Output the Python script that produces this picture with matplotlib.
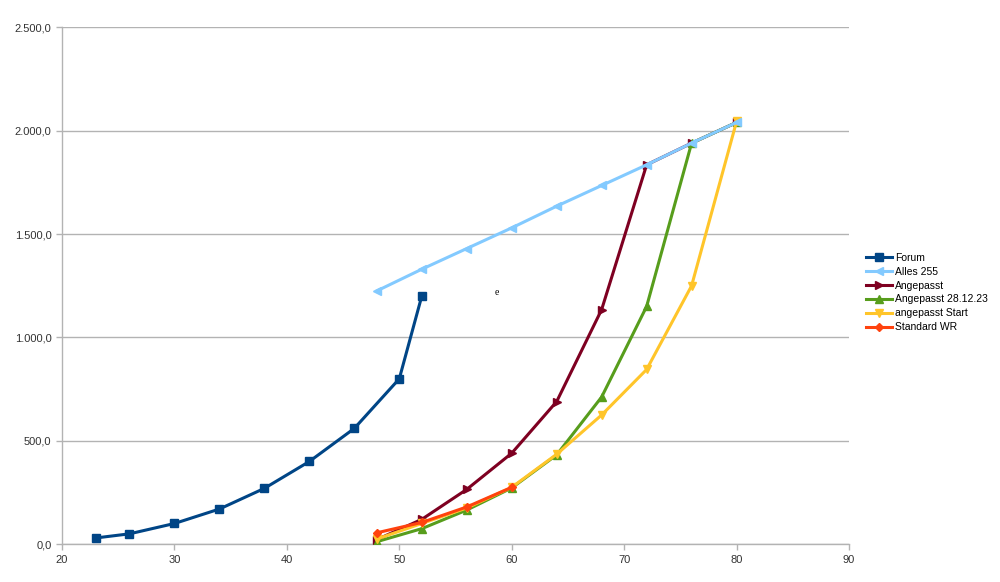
import matplotlib.pyplot as plt
from matplotlib.ticker import FuncFormatter, MultipleLocator

plt.rcParams['font.family'] = ['Liberation Sans', 'DejaVu Sans']

# Forum
forum_x = [23, 26, 30, 34, 38, 42, 46, 50, 52]
forum_y = [30, 50, 100, 170, 270, 400, 560, 800, 1200]

x_all = [48, 52, 56, 60, 64, 68, 72, 76, 80]
alles_y = [1225, 1330, 1430, 1530, 1635, 1735, 1835, 1940, 2040]
angepasst_y = [22, 120, 265, 440, 690, 1135, 1835, 1940, 2040]
angepasst2812_y = [12, 75, 165, 272, 432, 712, 1150, 1940, 2040]
start_y = [25, 100, 175, 275, 435, 625, 845, 1250, 2045]

wr_x = [48, 52, 56, 60]
wr_y = [55, 105, 180, 275]

# name, x, y, colour, marker, zorder
series = [
    ('Forum', forum_x, forum_y, '#004586', 's', 3),
    ('Alles 255', x_all, alles_y, '#83caff', '<', 8),
    ('Angepasst', x_all, angepasst_y, '#7e0021', '>', 4),
    ('Angepasst 28.12.23', x_all, angepasst2812_y, '#579d1c', '^', 5),
    ('angepasst Start', x_all, start_y, '#ffc52a', 'v', 6),
    ('Standard WR', wr_x, wr_y, '#ff420e', 'D', 7),
]

fig = plt.figure(figsize=(10, 5.82), dpi=100)
ax = fig.add_axes([0.062, 0.065, 0.787, 0.888])

for name, xs, ys, col, m, z in series:
    ms = 4.5 if m == 'D' else 5.5
    ax.plot(xs, ys, color=col, lw=2.2, marker=m, ms=ms, label=name, zorder=z)

ax.set_xlim(20, 90)
ax.set_ylim(0, 2500)
ax.xaxis.set_major_locator(MultipleLocator(10))
ax.yaxis.set_major_locator(MultipleLocator(500))
ax.yaxis.set_major_formatter(FuncFormatter(
    lambda v, p: '{:,.1f}'.format(v).replace(',', 'X').replace('.', ',').replace('X', '.')))
ax.grid(axis='y', color='#b3b3b3', lw=1)
ax.set_axisbelow(True)
for s in ['top', 'right']:
    ax.spines[s].set_visible(False)
for s in ['left', 'bottom']:
    ax.spines[s].set_color('#b3b3b3')
    ax.spines[s].set_linewidth(1)
ax.tick_params(colors='#b3b3b3', labelcolor='#333333', labelsize=8, length=4, width=1)

ax.text(58.7, 1218, 'e', fontsize=7, family='Liberation Serif', ha='center', va='center')

ax.legend(loc='center left', bbox_to_anchor=(1.01, 0.487), frameon=False,
          fontsize=7.5, handlelength=2.5, labelspacing=0.38, handletextpad=0.3)

fig.savefig('out.png')
